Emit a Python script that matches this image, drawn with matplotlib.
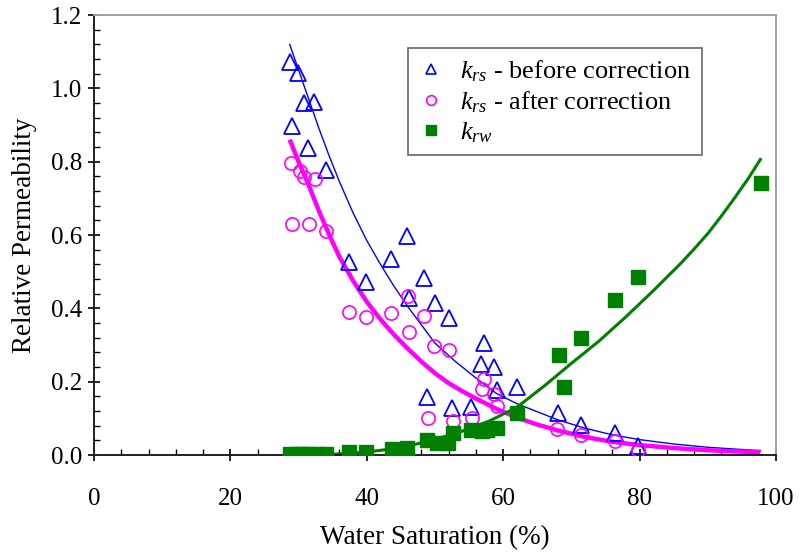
"""Relative permeability vs water saturation (krs before/after correction, krw)."""

import matplotlib.pyplot as plt
from matplotlib.lines import Line2D
from matplotlib.ticker import MultipleLocator

plt.rcParams["font.family"] = ["Liberation Serif", "DejaVu Serif"]
plt.rcParams["mathtext.fontset"] = "custom"
plt.rcParams["mathtext.rm"] = "Liberation Serif"
plt.rcParams["mathtext.it"] = "Liberation Serif:italic"

# krs before correction (open triangles)
sw_before = [28.7, 29.0, 29.9, 30.8, 32.3, 31.4, 34.0, 37.4, 39.9, 43.5, 45.9,
             46.2, 48.4, 48.8, 50.0, 52.1, 52.5, 55.3, 57.2, 56.7, 58.7, 59.1,
             62.0, 68.0, 71.4, 76.4, 79.8]
krs_before = [1.072, 0.897, 1.042, 0.960, 0.963, 0.837, 0.777, 0.526, 0.472,
              0.535, 0.597, 0.428, 0.483, 0.158, 0.414, 0.374, 0.128, 0.131,
              0.305, 0.248, 0.240, 0.177, 0.185, 0.115, 0.082, 0.060, 0.025]

# krs after correction (open circles)
sw_after = [28.9, 29.0, 30.2, 30.8, 32.4, 31.5, 34.0, 37.4, 39.9, 43.6, 46.0,
            46.2, 48.4, 49.9, 52.1, 49.0, 52.6, 55.4, 57.2, 56.9, 58.7, 59.1,
            67.9, 71.4, 76.4, 79.8]
krs_after = [0.796, 0.630, 0.774, 0.758, 0.753, 0.630, 0.611, 0.390, 0.376,
             0.387, 0.434, 0.335, 0.379, 0.297, 0.286, 0.101, 0.093, 0.101,
             0.207, 0.180, 0.166, 0.134, 0.071, 0.055, 0.038, 0.014]

# krw (filled squares)
sw_water = [28.8, 29.8, 30.6, 31.6, 32.8, 34.0, 37.4, 39.9, 43.7, 45.9, 48.8,
            50.3, 51.9, 52.6, 55.3, 56.9, 57.6, 59.1, 62.0, 68.2, 68.9, 71.4,
            76.4, 79.8, 97.8]
krw = [0.004, 0.004, 0.004, 0.004, 0.004, 0.004, 0.008, 0.008, 0.016, 0.019,
       0.040, 0.033, 0.033, 0.060, 0.068, 0.065, 0.068, 0.074, 0.115, 0.273,
       0.185, 0.319, 0.423, 0.485, 0.742]

# fitted curves
fit_sw_before = [28.7, 30.0, 31.5, 33.0, 34.5, 36.0, 38.0, 40.0, 42.0, 44.0,
                 46.0, 48.0, 50.0, 53.0, 56.0, 59.0, 62.0, 65.0, 68.0, 72.0,
                 76.0, 80.0, 85.0, 90.0, 95.0, 97.7]
fit_krs_before = [1.120, 1.050, 0.970, 0.890, 0.815, 0.745, 0.660, 0.585,
                  0.520, 0.460, 0.405, 0.355, 0.305, 0.255, 0.210, 0.168,
                  0.140, 0.118, 0.096, 0.073, 0.055, 0.042, 0.030, 0.021,
                  0.015, 0.012]

fit_sw_after = [28.7, 30.0, 31.5, 33.0, 34.5, 36.0, 38.0, 40.0, 42.0, 44.0,
                46.0, 48.0, 50.0, 52.0, 54.0, 56.0, 59.0, 62.0, 65.0, 68.0,
                72.0, 76.0, 80.0, 85.0, 90.0, 95.0, 97.7]
fit_krs_after = [0.860, 0.800, 0.735, 0.665, 0.600, 0.540, 0.475, 0.418,
                 0.370, 0.328, 0.290, 0.255, 0.223, 0.196, 0.174, 0.154,
                 0.126, 0.102, 0.083, 0.067, 0.049, 0.036, 0.027, 0.019,
                 0.013, 0.009, 0.008]

fit_sw_water = [28.7, 32.0, 35.0, 40.0, 45.0, 50.0, 54.0, 58.0, 62.0, 66.0,
                70.0, 74.0, 78.0, 82.0, 84.0, 86.0, 88.0, 90.0, 92.0, 94.0,
                96.0, 97.7]
fit_krw = [0.000, 0.001, 0.002, 0.008, 0.020, 0.042, 0.065, 0.093, 0.130,
           0.188, 0.250, 0.310, 0.377, 0.448, 0.485, 0.522, 0.562, 0.604,
           0.652, 0.703, 0.756, 0.806]

BLUE = "#0000ff"
MAGENTA = "#ff00ff"
GREEN = "#008000"

fig = plt.figure(figsize=(8.03, 5.54), dpi=100)
ax = fig.add_axes([0.117, 0.1787, 0.8494, 0.7942])

ax.plot(fit_sw_before, fit_krs_before, color=BLUE, lw=1.0, zorder=2)
ax.plot(fit_sw_after, fit_krs_after, color=MAGENTA, lw=3.2, zorder=2,
        solid_capstyle="butt")
ax.plot(fit_sw_water, fit_krw, color=GREEN, lw=2.2, zorder=2)

ax.plot(sw_before, krs_before, ls="none", marker="^", ms=11, mfc="none",
        mec=BLUE, mew=1.3, zorder=3)
ax.plot(sw_after, krs_after, ls="none", marker="o", ms=9.5, mfc="none",
        mec=MAGENTA, mew=1.2, zorder=3)
ax.plot(sw_water, krw, ls="none", marker="s", ms=9.5, mfc=GREEN,
        mec=GREEN, zorder=4)

ax.set_xlim(0, 100)
ax.set_ylim(0, 1.2)
ax.xaxis.set_major_locator(MultipleLocator(20))
ax.xaxis.set_minor_locator(MultipleLocator(4))
ax.yaxis.set_major_locator(MultipleLocator(0.2))
ax.yaxis.set_minor_locator(MultipleLocator(0.04))
ax.yaxis.set_major_formatter(lambda v, pos: f"{v:.1f}")

ax.tick_params(which="major", direction="inout", length=9, width=1.2,
               labelsize=18)
ax.tick_params(axis="x", which="major", pad=19)
ax.tick_params(axis="y", which="major", pad=4)
ax.tick_params(which="minor", direction="in", length=4.5, width=1.0)
ax.tick_params(top=False, right=False)

for side in ("left", "bottom"):
    ax.spines[side].set_color("#202020")
    ax.spines[side].set_linewidth(1.4)
for side in ("top", "right"):
    ax.spines[side].set_color("#a0a0a0")
    ax.spines[side].set_linewidth(1.4)

ax.set_xlabel("Water Saturation (%)", fontsize=19.5, labelpad=11)
ax.set_ylabel("Relative Permeability", fontsize=19.5, labelpad=10)

handles = [
    Line2D([], [], ls="none", marker="^", ms=7, mfc="none", mec=BLUE, mew=1.2),
    Line2D([], [], ls="none", marker="o", ms=7, mfc="none", mec=MAGENTA, mew=1.2),
    Line2D([], [], ls="none", marker="s", ms=7, mfc=GREEN, mec=GREEN),
]
labels = [r"$k_{rs}$ - before correction", r"$k_{rs}$ - after correction",
          r"$k_{rw}$"]
leg = ax.legend(handles, labels, loc="upper left",
                bbox_to_anchor=(0.460, 0.925), fontsize=19, frameon=True,
                fancybox=False, edgecolor="#404040", handlelength=1.0,
                handletextpad=0.6, labelspacing=0.2, borderpad=0.4,
                borderaxespad=0)
leg.get_frame().set_linewidth(1.2)

fig.savefig("out.png", dpi=100)
